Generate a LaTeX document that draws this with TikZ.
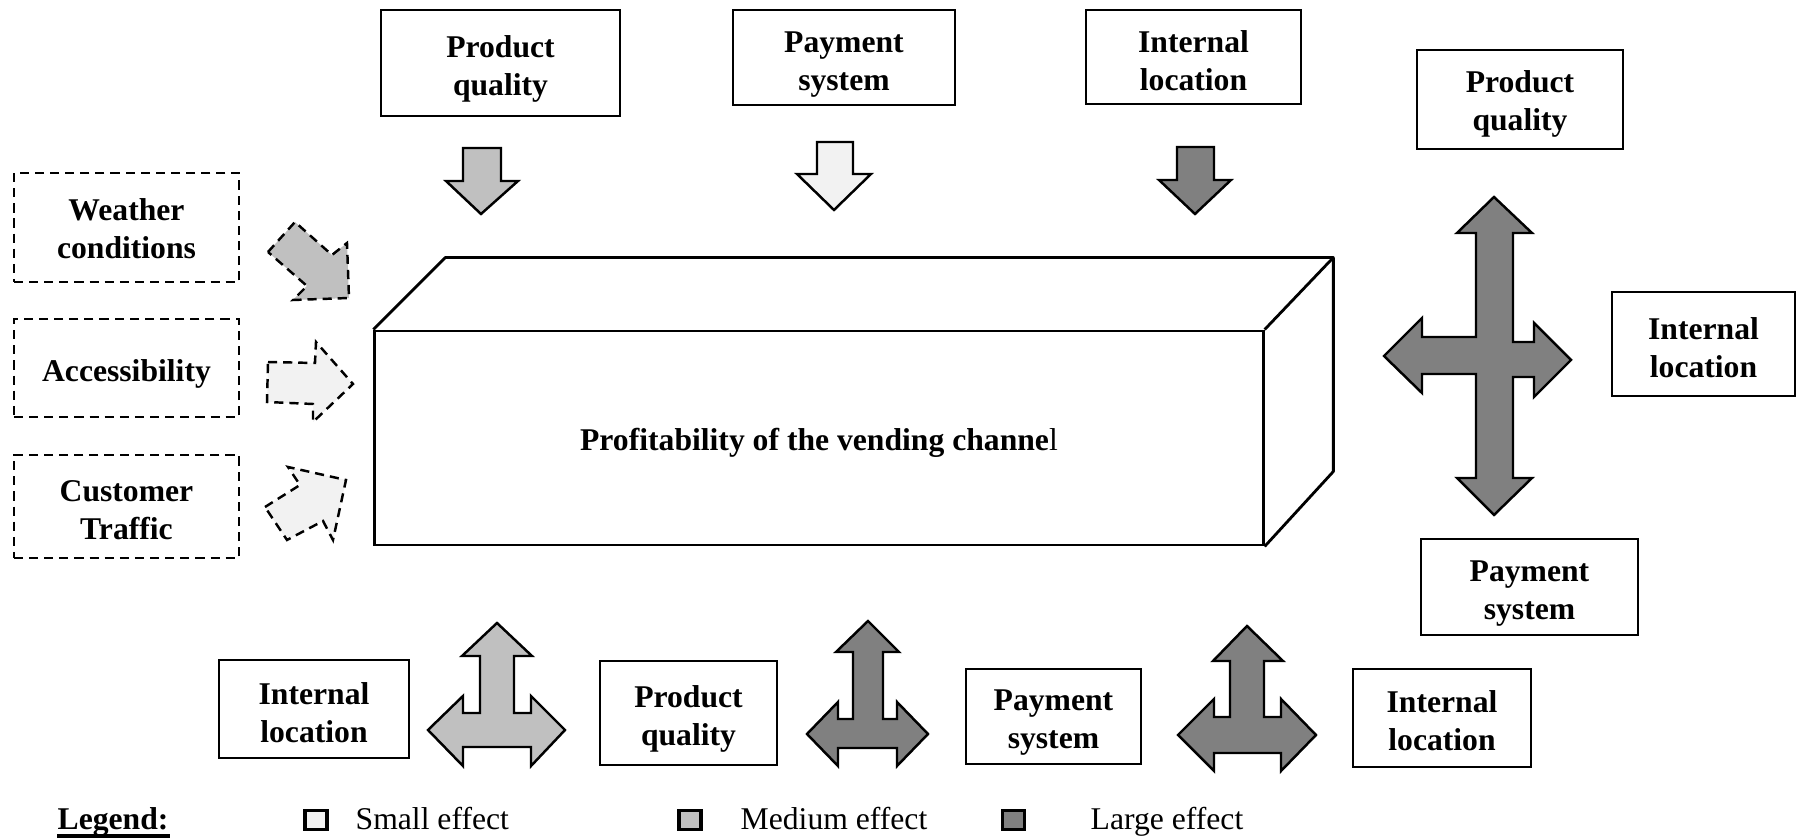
\documentclass[tikz,border=0pt]{standalone}
\usepackage{fontspec}
\setmainfont{Liberation Serif}
\definecolor{smallc}{HTML}{F2F2F2}
\definecolor{medc}{HTML}{C0C0C0}
\definecolor{largec}{HTML}{808080}
\tikzset{
  box/.style={draw, line width=0.7pt, inner sep=0pt, fill=white},
  dbox/.style={box, dash pattern=on 2.6pt off 1.7pt},
  lbl/.style={font=\bfseries, align=center, inner sep=0pt},
  blk/.style={draw, line width=0.7pt, line join=miter},
  dblk/.style={blk, dash pattern=on 2.6pt off 1.7pt},
  legsq/.style={draw, line width=1pt, minimum width=0.22cm, minimum height=0.19cm, inner sep=0pt},
  legtxt/.style={anchor=base west, inner sep=0pt}
}
% style, name, x, y, width(cm), height(cm), text shift(pt), text
\newcommand{\tbox}[8]{\node[#1, minimum width=#5cm, minimum height=#6cm,
  label={[lbl, yshift=-#7pt]center:{#8}}] (#2) at (#3,#4) {};}
\begin{document}
\fontsize{9}{10.8}\selectfont
\begin{tikzpicture}[x=0.01cm, y=-0.01cm]
\useasboundingbox (0,0) rectangle (1796,840);

% central block
\tbox{draw, line width=0.8pt, inner sep=0pt}{main}{819}{438}{8.88}{2.14}{1.3}{\textbf{Profitability of the vending channe}\mdseries l}
\draw[line width=0.8pt, line join=round] (main.north west) -- ++(72,-72) coordinate (tbl) -- ++(888,0) coordinate (tbr) -- (main.north east);
\draw[line width=0.8pt, line join=round] (tbr) -- ++(0,214) -- (main.south east);

% top boxes
\tbox{box}{pq1}{500.5}{63}{2.39}{1.06}{1.6}{Product\\quality}
\tbox{box}{pay1}{844}{57.5}{2.22}{0.95}{2.0}{Payment\\system}
\tbox{box}{int1}{1193.5}{57}{2.15}{0.94}{1.0}{Internal\\location}
% right boxes
\tbox{box}{pq2}{1520}{99.5}{2.06}{0.99}{1.3}{Product\\quality}
\tbox{box}{int2}{1703.5}{344}{1.83}{1.04}{1.0}{Internal\\location}
\tbox{box}{pay2}{1529.5}{587}{2.17}{0.96}{2.0}{Payment\\system}
% left dashed boxes
\tbox{dbox}{wea}{126.5}{227.5}{2.25}{1.09}{0.3}{Weather\\conditions}
\tbox{dbox}{acc}{126.5}{368}{2.25}{0.98}{1.6}{Accessibility}
\tbox{dbox}{cus}{126.5}{506.5}{2.25}{1.03}{1.0}{Customer\\Traffic}
% bottom boxes
\tbox{box}{int3}{314}{709}{1.90}{0.98}{1.0}{Internal\\location}
\tbox{box}{pq3}{688.5}{713}{1.77}{1.04}{1.6}{Product\\quality}
\tbox{box}{pay3}{1053.5}{716.5}{1.75}{0.95}{1.6}{Payment\\system}
\tbox{box}{int4}{1442}{718}{1.78}{0.98}{0.65}{Internal\\location}

% top down-arrows
\draw[blk, fill=medc] (463,148) -- (501,148) -- (501,181) -- (518,181) -- (481,214) -- (446,181) -- (463,181) -- cycle;
\draw[blk, fill=smallc] (817,142) -- (853,142) -- (853,174) -- (871,174) -- (834,210) -- (797,174) -- (817,174) -- cycle;
\draw[blk, fill=largec] (1177,147) -- (1214,147) -- (1214,180) -- (1231,180) -- (1195,214) -- (1159,180) -- (1177,180) -- cycle;

% left dashed arrows
\draw[dblk, fill=medc] (268,252) -- (295,222) -- (332,255) -- (347,243) -- (349,298) -- (293,300) -- (307,286) -- cycle;
\draw[dblk, fill=smallc] (268,362) -- (315,363) -- (316,342) -- (353,384) -- (313,422) -- (313,404) -- (267,402) -- cycle;
\draw[dblk, fill=smallc] (265,507) -- (300,485) -- (288,467) -- (346,480) -- (333,540) -- (323,521) -- (287,540) -- cycle;

% right cross arrow
\draw[blk, fill=largec] (1494,197) -- (1532,233) -- (1513,233) -- (1513,342) -- (1534,342) -- (1534,323) -- (1571,360)
  -- (1534,397) -- (1534,377) -- (1513,377) -- (1513,478) -- (1532,478) -- (1494,515) -- (1457,478) -- (1476,478)
  -- (1476,374) -- (1422,374) -- (1422,393) -- (1384,356) -- (1422,318) -- (1422,337) -- (1476,337) -- (1476,233)
  -- (1457,233) -- cycle;

% bottom T-arrows
\draw[blk, fill=medc] (497,623) -- (532,656) -- (514,656) -- (514,713) -- (531,713) -- (531,696) -- (565,730) -- (531,766)
  -- (531,747) -- (463,747) -- (463,766) -- (428,730) -- (463,696) -- (463,713) -- (480,713) -- (480,656) -- (462,656) -- cycle;
\draw[blk, fill=largec] (868,621) -- (899,652) -- (883,652) -- (883,719) -- (897,719) -- (897,702) -- (928,734) -- (897,766)
  -- (897,748) -- (838,748) -- (838,766) -- (807,734) -- (838,702) -- (838,719) -- (853,719) -- (853,652) -- (836,652) -- cycle;
\draw[blk, fill=largec] (1247,626) -- (1283,661) -- (1264,661) -- (1264,717) -- (1281,717) -- (1281,699) -- (1316,735) -- (1281,771)
  -- (1281,753) -- (1214,753) -- (1214,771) -- (1178,735) -- (1214,699) -- (1214,717) -- (1230,717) -- (1230,661) -- (1213,661) -- cycle;

% legend
\node[legtxt] (leg) at (57,830) {\textbf{Legend:}};
\draw[line width=1.3pt] (57,836) -- (170,836);
\node[legsq, fill=smallc] (ls) at (316,820) {};
\node[legtxt] (lst) at (355,830) {Small effect};
\node[legsq, fill=medc] (lm) at (690,820) {};
\node[legtxt] (lmt) at (740,830) {Medium effect};
\node[legsq, fill=largec] (ll) at (1013.5,820) {};
\node[legtxt] (llt) at (1090,830) {Large effect};
\end{tikzpicture}
\end{document}
